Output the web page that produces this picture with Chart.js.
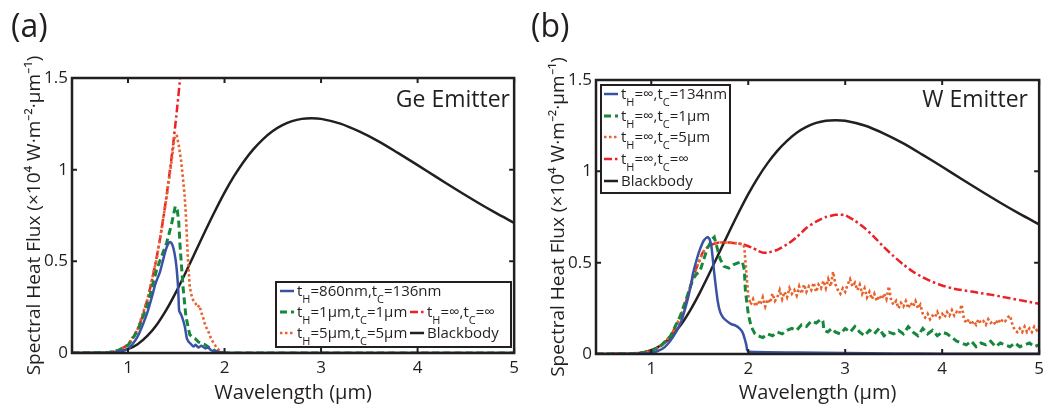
<!DOCTYPE html>
<html><head><meta charset="utf-8">
<script src="https://cdn.jsdelivr.net/npm/chart.js@4.4.1/dist/chart.umd.min.js"></script>
<style>
html,body{margin:0;padding:0;background:#fff;}
body{width:1049px;height:408px;position:relative;overflow:hidden;font-family:"Open Sans",sans-serif;color:#231f20;}
canvas{position:absolute;top:0;}
#ca{left:0}
#cb{left:524px}
.lbl{position:absolute;font-size:32px;line-height:30px;}
.emit{position:absolute;font-size:23px;line-height:30px;text-align:right;width:230px;}
.leg{position:absolute;border:2px solid #231f20;background:#fff;box-sizing:border-box;font-size:15px;}
.it{position:absolute;height:21px;line-height:21px;white-space:nowrap;}
.it svg{position:absolute;top:11px;left:0;}
.it span{position:absolute;left:17px;top:0;}
sub{font-size:11px;vertical-align:-7px;line-height:0;}
</style>
</head><body>
<canvas id="ca" width="524" height="408"></canvas>
<canvas id="cb" width="525" height="408"></canvas>

<div class="lbl" style="left:11px;top:10px">(a)</div>
<div class="lbl" style="left:531px;top:10px">(b)</div>
<div class="emit" style="left:280px;top:83px">Ge Emitter</div>
<div class="emit" style="left:798px;top:83px">W Emitter</div>

<div class="leg" id="lega" style="left:275px;top:281px;width:237px;height:67px"></div>
<div class="leg" id="legb" style="left:600px;top:84px;width:131px;height:110px"></div>

<script>
// ---------- shared ----------
const xTicks = [1, 2, 3, 4, 5];
const yTicks = [0, 0.5, 1, 1.5];
const xLabel = 'Wavelength (µm)';
const yLabel = 'Spectral Heat Flux (×10⁴ W·m⁻²·µm⁻¹)';

// Blackbody (both panels)
const bbWl   = [0.42,0.6,0.7,0.8,0.9,1.0,1.1,1.2,1.3,1.4,1.5,1.6,1.7,1.8,1.9,2.0,2.1,2.2,2.3,2.4,2.5,2.6,2.7,2.8,2.9,3.0,3.2,3.4,3.6,3.8,4.0,4.2,4.4,4.6,4.8,5.0];
const bbFlux = [0,0,0.0003,0.0018,0.0072,0.021,0.048,0.093,0.156,0.238,0.335,0.442,0.554,0.665,0.773,0.875,0.966,1.045,1.112,1.167,1.211,1.243,1.265,1.277,1.280,1.277,1.251,1.207,1.153,1.090,1.025,0.958,0.892,0.828,0.767,0.710];

// ---------- panel (a) Ge emitter ----------
const geWl860   = [0.42,0.8,0.9,1.0,1.05,1.1,1.15,1.2,1.25,1.28,1.3,1.33,1.36,1.39,1.42,1.44,1.46,1.48,1.5,1.52,1.53,1.55,1.57,1.59,1.61,1.63,1.65,1.68,1.7,1.73,1.76,1.8,1.83,1.86,1.9,2.0,5.0];
const geFlux860 = [0,0.002,0.008,0.022,0.05,0.09,0.15,0.22,0.31,0.37,0.40,0.44,0.50,0.56,0.60,0.605,0.59,0.55,0.48,0.35,0.23,0.21,0.18,0.14,0.08,0.06,0.05,0.035,0.045,0.03,0.04,0.025,0.03,0.015,0.01,0,0];

const geWl1     = [0.42,0.8,0.9,1.0,1.1,1.2,1.25,1.3,1.35,1.4,1.45,1.47,1.49,1.51,1.525,1.54,1.57,1.6,1.64,1.67,1.7,1.73,1.77,1.8,1.84,1.88,1.91,1.95,5.0];
const geFlux1   = [0,0.003,0.014,0.042,0.12,0.26,0.36,0.46,0.53,0.60,0.70,0.75,0.80,0.78,0.72,0.58,0.36,0.20,0.10,0.085,0.077,0.06,0.05,0.045,0.03,0.02,0.01,0,0];

const geWl5     = [0.42,0.8,0.9,1.0,1.1,1.2,1.3,1.4,1.45,1.48,1.505,1.53,1.55,1.57,1.585,1.6,1.62,1.64,1.66,1.68,1.7,1.72,1.74,1.76,1.78,1.8,1.83,1.86,1.89,1.92,1.95,2.0,5.0];
const geFlux5   = [0,0.003,0.015,0.045,0.13,0.29,0.52,0.85,1.04,1.17,1.19,1.12,1.05,0.95,0.87,0.75,0.52,0.36,0.31,0.28,0.27,0.25,0.26,0.22,0.19,0.15,0.12,0.08,0.05,0.03,0.01,0,0];

const geWlInf   = [0.42,0.7,0.8,0.9,1.0,1.05,1.1,1.15,1.2,1.25,1.3,1.35,1.4,1.45,1.5,1.55,1.6];
const geFluxInf = [0,0,0.003,0.015,0.045,0.08,0.13,0.20,0.29,0.40,0.53,0.68,0.86,1.06,1.29,1.55,1.80];

// ---------- panel (b) W emitter ----------
const wWl134   = [0.43,0.8,0.9,1.0,1.06,1.12,1.17,1.22,1.27,1.31,1.35,1.38,1.41,1.43,1.47,1.5,1.54,1.58,1.6,1.62,1.65,1.685,1.71,1.74,1.78,1.82,1.87,1.91,1.94,1.96,1.98,1.99,2.01,2.5,3.0,3.5,4.0,5.0];
const wFlux134 = [0,0.001,0.003,0.006,0.015,0.03,0.055,0.09,0.135,0.18,0.25,0.31,0.38,0.44,0.52,0.57,0.62,0.64,0.63,0.59,0.44,0.29,0.23,0.20,0.18,0.165,0.155,0.14,0.12,0.09,0.05,0.02,0.012,0.008,0.005,0.003,0.002,0.001];

const wWl1   = [0.43,0.8,0.9,1.0,1.1,1.2,1.3,1.36,1.43,1.47,1.5,1.53,1.58,1.63,1.65,1.68,1.71,1.75,1.8,1.85,1.9,1.94,1.96,1.97,2.0,2.03,2.07,
  2.1,2.15,2.2,2.25,2.3,2.35,2.4,2.45,2.5,2.55,2.6,2.65,2.7,2.75,2.77,2.78,2.82,2.86,2.9,2.95,3.0,3.05,3.1,3.15,3.2,3.25,3.3,3.35,3.4,3.45,3.5,3.55,3.6,3.65,3.7,3.75,3.8,3.85,3.9,3.95,4.0,4.05,4.1,4.15,4.2,4.25,4.3,4.35,4.4,4.45,4.5,4.55,4.6,4.65,4.7,4.75,4.8,4.85,4.9,4.95,5.0];
const wFlux1 = [0,0.002,0.006,0.016,0.045,0.10,0.21,0.30,0.41,0.44,0.45,0.50,0.58,0.63,0.64,0.58,0.52,0.48,0.47,0.49,0.50,0.505,0.46,0.35,0.22,0.15,0.11,
  0.10,0.09,0.11,0.10,0.12,0.11,0.13,0.14,0.13,0.16,0.15,0.18,0.17,0.19,0.18,0.13,0.12,0.14,0.12,0.11,0.14,0.12,0.15,0.12,0.10,0.13,0.11,0.14,0.10,0.12,0.11,0.13,0.11,0.15,0.12,0.10,0.14,0.11,0.13,0.10,0.12,0.11,0.09,0.07,0.06,0.05,0.07,0.04,0.06,0.05,0.07,0.04,0.06,0.05,0.04,0.06,0.04,0.05,0.06,0.04,0.05];

const wWl5   = [0.43,0.8,0.9,1.0,1.1,1.2,1.3,1.36,1.43,1.48,1.53,1.58,1.63,1.7,1.8,1.9,1.95,1.96,1.98,
  2.000,2.025,2.050,2.075,2.100,2.125,2.150,2.175,2.200,2.225,2.250,2.275,2.300,2.325,2.350,2.375,2.400,2.425,2.450,2.475,
  2.500,2.525,2.550,2.575,2.600,2.625,2.650,2.675,2.700,2.725,2.750,2.775,2.800,2.825,2.850,2.875,2.900,2.925,2.950,2.975,
  3.000,3.025,3.050,3.075,3.100,3.125,3.150,3.175,3.200,3.225,3.250,3.275,3.300,3.325,3.350,3.375,3.400,3.425,3.450,3.475,
  3.500,3.525,3.550,3.575,3.600,3.625,3.650,3.675,3.700,3.725,3.750,3.775,3.800,3.825,3.850,3.875,3.900,3.925,3.950,3.975,
  4.000,4.025,4.050,4.075,4.100,4.125,4.150,4.175,4.200,4.225,4.250,4.275,4.300,4.325,4.350,4.375,4.400,4.425,4.450,4.475,
  4.500,4.525,4.550,4.575,4.600,4.625,4.650,4.675,4.700,4.725,4.750,4.775,4.800,4.825,4.850,4.875,4.900,4.925,4.950,4.975,5.000];
const wFlux5 = [0,0.002,0.006,0.016,0.045,0.10,0.20,0.29,0.42,0.49,0.555,0.585,0.60,0.61,0.61,0.605,0.60,0.58,0.45,
  0.32,0.27,0.30,0.26,0.29,0.27,0.31,0.26,0.30,0.28,0.33,0.29,0.31,0.35,0.30,0.34,0.31,0.36,0.33,0.35,
  0.32,0.37,0.33,0.38,0.34,0.37,0.35,0.39,0.34,0.38,0.36,0.40,0.36,0.41,0.37,0.45,0.38,0.35,0.33,0.36,
  0.34,0.38,0.41,0.37,0.39,0.35,0.38,0.33,0.36,0.31,0.34,0.30,0.33,0.29,0.32,0.30,0.33,0.30,0.37,0.29,
  0.27,0.29,0.25,0.28,0.26,0.29,0.25,0.28,0.26,0.29,0.25,0.27,0.22,0.20,0.22,0.19,0.21,0.20,0.23,0.20,
  0.22,0.20,0.23,0.21,0.24,0.21,0.23,0.22,0.27,0.19,0.17,0.19,0.16,0.18,0.16,0.19,0.17,0.18,0.16,0.19,
  0.17,0.18,0.16,0.19,0.17,0.19,0.18,0.20,0.21,0.16,0.13,0.12,0.14,0.12,0.15,0.12,0.14,0.12,0.15,0.13,0.15];

const wWlInf   = [0.43,0.8,0.9,1.0,1.1,1.2,1.3,1.36,1.43,1.48,1.53,1.58,1.63,1.7,1.8,1.9,1.95,2.0,2.05,2.1,2.15,2.2,2.3,2.4,2.5,2.6,2.7,2.8,2.9,2.95,3.0,3.1,3.2,3.3,3.4,3.5,3.6,3.7,3.8,3.9,4.0,4.1,4.2,4.3,4.4,4.5,4.6,4.7,4.8,4.9,5.0];
const wFluxInf = [0,0.002,0.006,0.016,0.045,0.10,0.20,0.29,0.42,0.49,0.555,0.585,0.60,0.61,0.61,0.605,0.60,0.59,0.58,0.565,0.555,0.555,0.57,0.60,0.64,0.69,0.725,0.75,0.762,0.763,0.76,0.73,0.69,0.64,0.585,0.535,0.49,0.45,0.42,0.395,0.375,0.36,0.35,0.342,0.333,0.325,0.315,0.305,0.295,0.285,0.275];

// ---------- styling ----------
const FONT = '"Open Sans", sans-serif';
const INK = '#231f20';
const COL = { blue:'#3953a4', green:'#16883c', orange:'#e8622c', red:'#ec2027', black:'#231f20' };
const STYLE = {
  blue:   { color: COL.blue,   width: 2.5, dash: [],            tension: 0.2 },
  green:  { color: COL.green,  width: 3,   dash: [7, 4],        tension: 0 },
  orange: { color: COL.orange, width: 2.6, dash: [2.5, 2.5],    tension: 0 },
  red:    { color: COL.red,    width: 2.5, dash: [8, 3, 2.5, 3], tension: 0.2 },
  black:  { color: COL.black,  width: 2.5, dash: [],            tension: 0.3 }
};
const pts = (xs, ys) => xs.map((x, i) => ({ x, y: ys[i] }));
const ds = (label, xs, ys, key) => ({
  label, data: pts(xs, ys), borderColor: STYLE[key].color, backgroundColor: STYLE[key].color,
  borderWidth: STYLE[key].width, borderDash: STYLE[key].dash, tension: STYLE[key].tension,
  pointRadius: 0, fill: false, clip: 0, borderCapStyle: 'butt'
});

const framePlugin = {
  id: 'frame',
  afterDatasetsDraw(chart) {
    const { ctx, chartArea: { left, right, top, bottom }, scales: { x, y } } = chart;
    ctx.save();
    ctx.setLineDash([]);
    ctx.strokeStyle = INK;
    ctx.lineWidth = 2;
    ctx.beginPath();
    xTicks.forEach(v => { const p = x.getPixelForValue(v);
      ctx.moveTo(p, bottom); ctx.lineTo(p, bottom - 5); ctx.moveTo(p, top); ctx.lineTo(p, top + 5); });
    yTicks.forEach(v => { const p = y.getPixelForValue(v);
      ctx.moveTo(left, p); ctx.lineTo(left + 5, p); ctx.moveTo(right, p); ctx.lineTo(right - 5, p); });
    ctx.stroke();
    ctx.lineWidth = 2.5;
    ctx.strokeRect(left, top, right - left, bottom - top);
    ctx.restore();
  }
};

function makeChart(id, datasets, xMin, padTop, padRight, xH) {
  return new Chart(document.getElementById(id), {
    type: 'line',
    data: { datasets },
    plugins: [framePlugin],
    options: {
      responsive: false, animation: false, events: [],
      layout: { padding: { top: padTop, right: padRight, left: 0, bottom: 0 } },
      plugins: { legend: { display: false }, tooltip: { enabled: false } },
      scales: {
        x: {
          type: 'linear', min: xMin, max: 5,
          afterBuildTicks: s => { s.ticks = xTicks.map(v => ({ value: v })); },
          afterFit: s => { s.height = xH; },
          grid: { display: false, drawTicks: false }, border: { display: false },
          ticks: { padding: 5, autoSkip: false, maxRotation: 0, color: INK, font: { family: FONT, size: 17 },
                   callback: v => String(v) },
          title: { display: true, text: xLabel, color: INK, font: { family: FONT, size: 20 }, padding: { top: 0, bottom: 3 } }
        },
        y: {
          type: 'linear', min: 0, max: 1.5,
          afterBuildTicks: s => { s.ticks = yTicks.map(v => ({ value: v })); },
          afterFit: s => { s.width = 72; },
          grid: { display: false, drawTicks: false }, border: { display: false },
          ticks: { padding: 4, color: INK, font: { family: FONT, size: 17 }, callback: v => String(v) },
          title: { display: true, text: yLabel, color: INK, font: { family: FONT, size: 19 }, padding: { top: 23, bottom: 0 } }
        }
      }
    }
  });
}

makeChart('ca', [
  ds('tH=860nm,tC=136nm', geWl860, geFlux860, 'blue'),
  ds('tH=1µm,tC=1µm', geWl1, geFlux1, 'green'),
  ds('tH=5µm,tC=5µm', geWl5, geFlux5, 'orange'),
  ds('tH=∞,tC=∞', geWlInf, geFluxInf, 'red'),
  ds('Blackbody', bbWl, bbFlux, 'black')
], 0.42, 78, 8, 55);

makeChart('cb', [
  ds('tH=∞,tC=134nm', wWl134, wFlux134, 'blue'),
  ds('tH=∞,tC=1µm', wWl1, wFlux1, 'green'),
  ds('tH=∞,tC=5µm', wWl5, wFlux5, 'orange'),
  ds('tH=∞,tC=∞', wWlInf, wFluxInf, 'red'),
  ds('Blackbody', bbWl, bbFlux, 'black')
], 0.43, 80, 9, 54);

// ---------- HTML legends (for subscripts) ----------
function sample(key) {
  const s = STYLE[key];
  return `<svg width="14" height="4" style="overflow:visible"><line x1="0" y1="0" x2="14" y2="0" stroke="${s.color}" stroke-width="${s.width}" stroke-dasharray="${s.dash.length ? s.dash.join(' ') : 'none'}"/></svg>`;
}
function item(key, html, left, top) {
  return `<div class="it" style="left:${left}px;top:${top}px">${sample(key)}<span>${html}</span></div>`;
}
const legA = [
  ['blue',   't<sub>H</sub>=860nm,t<sub>C</sub>=136nm', 3, -3],
  ['green',  't<sub>H</sub>=1µm,t<sub>C</sub>=1µm',     3, 18],
  ['red',    't<sub>H</sub>=∞,t<sub>C</sub>=∞',         133, 18],
  ['orange', 't<sub>H</sub>=5µm,t<sub>C</sub>=5µm',     3, 38.5],
  ['black',  'Blackbody',                                133, 38.5]
];
const legB = [
  ['blue',   't<sub>H</sub>=∞,t<sub>C</sub>=134nm', 2, -3],
  ['green',  't<sub>H</sub>=∞,t<sub>C</sub>=1µm',   2, 18.7],
  ['orange', 't<sub>H</sub>=∞,t<sub>C</sub>=5µm',   2, 40.4],
  ['red',    't<sub>H</sub>=∞,t<sub>C</sub>=∞',     2, 62],
  ['black',  'Blackbody',                            2, 83.7]
];
document.getElementById('lega').innerHTML = legA.map(a => item(...a)).join('');
document.getElementById('legb').innerHTML = legB.map(a => item(...a)).join('');
</script>
</body></html>
